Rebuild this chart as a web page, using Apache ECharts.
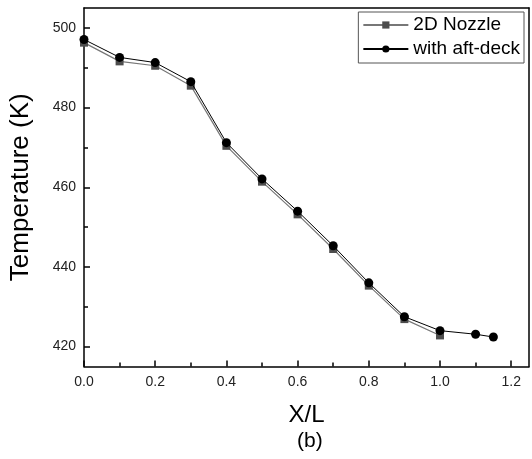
<!DOCTYPE html>
<html>
<head>
<meta charset="utf-8">
<script src="https://cdn.jsdelivr.net/npm/echarts@6/dist/echarts.min.js"></script>
<style>html,body{margin:0;padding:0;background:#fff;}#c{width:532px;height:459px;}</style>
</head>
<body>
<div id="c"></div>
<script>
// Data
const xNozzle = [0.0, 0.1, 0.2, 0.3, 0.4, 0.5, 0.6, 0.7, 0.8, 0.9, 1.0];
const tNozzle = [496.3, 491.6, 490.5, 485.5, 470.4, 461.4, 453.2, 444.5, 435.3, 426.9, 422.8];
const xAft = [0.0, 0.1, 0.2, 0.3, 0.4, 0.5, 0.6, 0.7, 0.8, 0.9, 1.0, 1.1, 1.15];
const tAft = [497.1, 492.6, 491.3, 486.5, 471.2, 462.1, 454.0, 445.3, 436.0, 427.5, 424.0, 423.1, 422.4];
const xMajorTicks = [0.0, 0.2, 0.4, 0.6, 0.8, 1.0, 1.2];
const xMinorTicks = [0.1, 0.3, 0.5, 0.7, 0.9, 1.1];
const yMajorTicks = [420, 440, 460, 480, 500];
const yMinorTicks = [430, 450, 470, 490];
const seriesNames = ['2D Nozzle', 'with aft-deck'];

const FONT = '"Liberation Sans", Arial, sans-serif';
const chart = echarts.init(document.getElementById('c'), null, {renderer: 'canvas'});
const axisLineStyle = {color: '#000', width: 1.5};
const XMIN = 0, XMAX = 1.25, YMIN = 415, YMAX = 505;

chart.setOption({
  animation: false,
  backgroundColor: '#fff',
  textStyle: {fontFamily: FONT},
  title: {
    text: '(b)', left: 297, top: 431, padding: 0,
    textStyle: {fontFamily: FONT, fontSize: 21, fontWeight: 'normal', color: '#000'}
  },
  grid: {left: 84, right: 3, top: 8, bottom: 92.5, containLabel: false},
  legend: {
    orient: 'vertical', right: 8, top: 12,
    padding: [2, 4, 3, 4], itemGap: 2, itemWidth: 45, itemHeight: 9,
    borderColor: '#555', borderWidth: 1, backgroundColor: '#fff',
    textStyle: {fontFamily: FONT, fontSize: 19, color: '#000', lineHeight: 22},
    data: seriesNames
  },
  xAxis: [
    {
      type: 'value', position: 'bottom', min: XMIN, max: XMAX,
      name: 'X/L', nameLocation: 'middle', nameGap: 37,
      nameTextStyle: {fontFamily: FONT, fontSize: 24, color: '#000'},
      axisLine: {show: true, onZero: false, lineStyle: axisLineStyle},
      axisTick: {show: true, inside: true, length: 6, customValues: xMajorTicks, lineStyle: {color: '#000', width: 1.5}},
      axisLabel: {show: true, customValues: xMajorTicks, margin: 9, fontSize: 14, color: '#222', fontFamily: FONT,
        formatter: v => Number(v).toFixed(1)},
      splitLine: {show: false}
    },
    {
      type: 'value', position: 'bottom', min: XMIN, max: XMAX,
      axisLine: {show: false, onZero: false},
      axisTick: {show: true, inside: true, length: 4, customValues: xMinorTicks, lineStyle: {color: '#000', width: 1.5}},
      axisLabel: {show: false}, splitLine: {show: false}
    },
    {
      type: 'value', position: 'top', min: XMIN, max: XMAX,
      axisLine: {show: true, onZero: false, lineStyle: axisLineStyle},
      axisTick: {show: false}, axisLabel: {show: false}, splitLine: {show: false}
    }
  ],
  yAxis: [
    {
      type: 'value', position: 'left', min: YMIN, max: YMAX,
      name: 'Temperature (K)', nameLocation: 'middle', nameGap: 50,
      nameTextStyle: {fontFamily: FONT, fontSize: 26, color: '#000'},
      axisLine: {show: true, onZero: false, lineStyle: axisLineStyle},
      axisTick: {show: true, inside: true, length: 6, customValues: yMajorTicks, lineStyle: {color: '#000', width: 1.5}},
      axisLabel: {show: true, customValues: yMajorTicks, margin: 8, fontSize: 14, color: '#222', fontFamily: FONT},
      splitLine: {show: false}
    },
    {
      type: 'value', position: 'left', min: YMIN, max: YMAX,
      axisLine: {show: false, onZero: false},
      axisTick: {show: true, inside: true, length: 4, customValues: yMinorTicks, lineStyle: {color: '#000', width: 1.5}},
      axisLabel: {show: false}, splitLine: {show: false}
    },
    {
      type: 'value', position: 'right', min: YMIN, max: YMAX,
      axisLine: {show: true, onZero: false, lineStyle: axisLineStyle},
      axisTick: {show: false}, axisLabel: {show: false}, splitLine: {show: false}
    }
  ],
  series: [
    {
      name: seriesNames[0], type: 'line', xAxisIndex: 0, yAxisIndex: 0,
      data: xNozzle.map((x, i) => [x, tNozzle[i]]),
      symbol: 'rect', symbolSize: 8,
      itemStyle: {color: '#4d4d4d'},
      lineStyle: {color: '#777', width: 1.2},
      z: 2
    },
    {
      name: seriesNames[1], type: 'line', xAxisIndex: 0, yAxisIndex: 0,
      data: xAft.map((x, i) => [x, tAft[i]]),
      symbol: 'circle', symbolSize: 9,
      itemStyle: {color: '#000'},
      lineStyle: {color: '#000', width: 1},
      z: 3
    }
  ]
});
</script>
</body>
</html>
